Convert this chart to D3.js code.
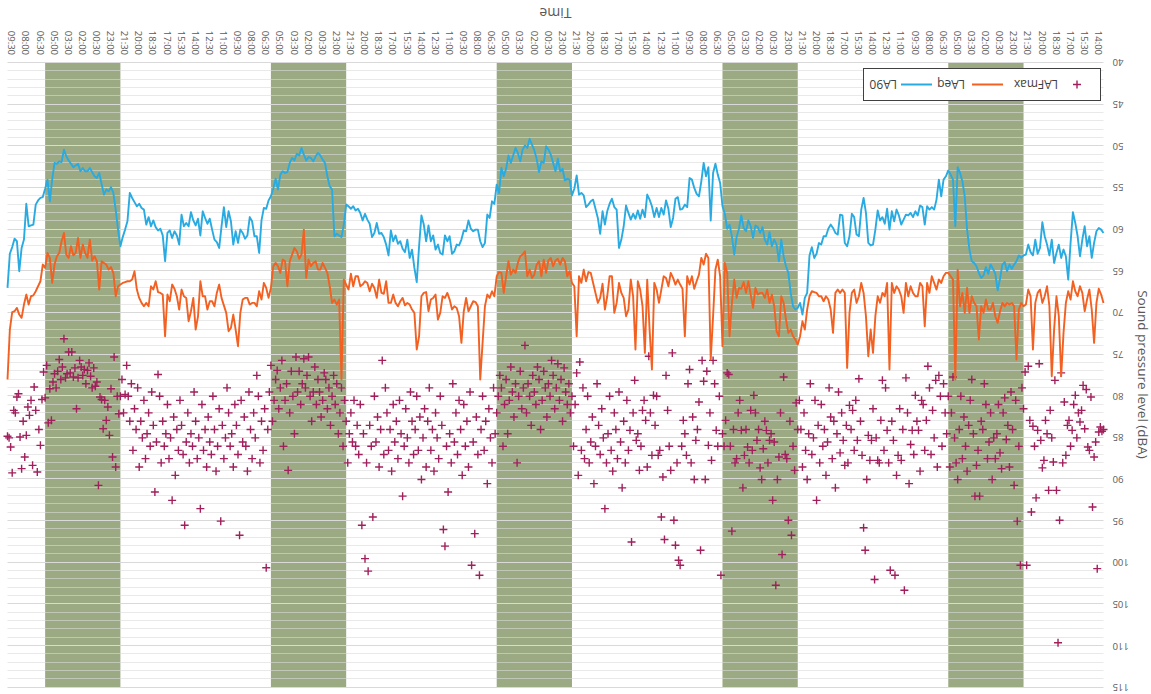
<!DOCTYPE html>
<html>
<head>
<meta charset="utf-8">
<script src="https://cdn.jsdelivr.net/npm/d3@7"></script>
<style>
  html, body { margin: 0; padding: 0; background: #ffffff; }
  svg { display: block; }
  text { font-family: "Open Sans", "Noto Sans", "DejaVu Sans", sans-serif; }
</style>
</head>
<body>
<svg id="chart" width="1151" height="694"></svg>
<script>
// ---- data -------------------------------------------------------------
// Hours are counted from 13:30 on the first day of the survey.
const totalHours = 116.5;          // 13:30 day 1 -> 10:00 day 6
const lineStepHours = 0.25;        // LA90 / LAeq: 15-minute values
const maxStepHours = 1 / 6;        // LAFmax: 10-minute values

// Night-time periods (22:00-06:00), start hour and length
const nightStarts = [8.5, 32.5, 56.5, 80.5, 104.5];
const nightLength = 8;

const seriesNames = ["LAFmax", "LAeq", "LA90"];
const seriesColors = ["#a01f5c", "#f26122", "#29abe2"];

const la90 = [
60.4,60.0,59.8,60.2,61.6,63.4,60.8,62.0,59.6,61.2,
63.2,60.8,59.2,57.9,61.6,66.0,63.2,62.4,63.4,61.8,
62.8,64.0,61.2,63.1,61.8,60.8,59.1,62.2,62.9,61.2,
63.1,62.7,61.8,63.0,63.1,63.4,63.1,63.8,64.2,64.7,
64.2,65.0,63.9,64.2,65.9,67.3,65.3,64.7,64.2,65.3,
64.5,65.5,65.8,65.2,64.4,64.0,63.8,62.4,60.0,56.0,
54.2,53.2,52.5,59.6,54.0,53.4,52.9,53.6,54.0,56.0,
54.0,56.4,57.6,57.3,57.6,57.2,59.4,57.3,57.1,58.3,
57.8,58.5,58.0,58.3,58.2,58.8,59.4,58.3,57.6,59.0,
57.8,60.0,57.5,59.3,58.5,58.9,57.7,60.0,61.8,61.9,
61.6,58.0,56.2,57.6,60.8,60.6,58.5,58.1,60.8,62.0,
61.6,58.3,58.2,60.6,60.4,59.8,59.4,59.9,60.8,
60.8,61.8,61.6,62.9,63.4,62.1,63.1,67.6,68.2,70.2,
68.8,69.4,69.6,69.2,67.6,65.2,64.4,63.2,61.2,63.8,
61.8,61.2,62.0,60.3,61.8,61.2,59.7,60.4,59.7,59.5,
61.0,59.6,58.9,60.2,59.8,58.3,59.9,60.9,63.0,60.8,
59.4,59.9,58.1,57.2,54.4,53.4,52.1,53.2,58.9,52.5,
53.6,52.0,54.2,56.0,55.7,55.0,54.0,53.8,57.3,57.0,
57.5,57.6,56.1,56.3,58.6,59.7,57.5,56.5,58.2,57.4,
58.5,57.4,58.5,57.2,56.4,55.8,58.5,57.6,58.7,57.7,
58.7,58.1,58.8,58.0,57.1,59.6,61.2,62.2,57.6,57.3,
56.3,56.9,57.8,59.4,57.8,60.5,58.6,57.5,56.4,56.6,
57.0,57.3,55.9,55.6,55.8,53.5,55.1,55.9,54.0,53.9,
54.1,52.7,53.0,51.5,53.0,52.0,51.0,
50.4,50.0,52.0,51.8,53.1,51.5,50.5,49.8,49.1,50.2,
49.9,50.4,51.8,50.8,50.2,51.1,52.0,51.1,52.7,53.6,
52.6,55.6,54.6,56.9,56.6,58.6,58.2,61.6,62.1,61.4,
60.0,60.0,60.2,59.9,58.9,60.2,60.1,61.2,61.9,61.8,
62.6,62.9,60.8,61.4,60.7,63.0,62.8,61.8,62.4,60.7,
61.4,59.5,61.4,59.4,58.3,62.0,66.3,64.6,62.4,63.4,
61.2,62.7,62.3,61.4,61.7,60.7,61.4,60.1,63.1,61.8,
60.9,60.4,60.5,59.2,60.4,60.9,59.3,58.8,58.1,58.9,
58.0,57.5,57.7,57.2,57.5,57.2,57.0,59.4,60.9,60.7,
60.5,60.8,55.2,54.8,53.6,52.0,51.6,51.1,50.8,51.2,
51.8,51.4,51.3,51.7,51.0,50.2,51.1,50.9,51.7,51.4,
52.0,53.1,53.2,53.0,53.4,55.2,53.9,
55.1,56.0,56.5,57.5,57.4,58.9,62.8,60.8,60.8,59.0,
58.5,60.7,61.1,60.4,60.0,61.6,60.2,61.8,59.0,57.8,
59.7,57.3,59.6,62.2,61.5,61.2,60.0,58.7,59.3,58.6,
57.8,60.7,58.7,59.5,58.9,57.9,59.6,59.2,59.6,58.2,
61.8,60.7,60.2,61.0,60.1,60.4,63.8,60.7,59.9,60.1,
59.7,58.9,59.6,58.5,59.4,57.6,57.4,56.9,57.2,56.7,
56.2,55.6,59.0,60.0,60.9,62.0,60.0,57.6,55.6,54.9,
55.4,55.2,55.8,54.5,53.2,53.8,53.6,53.1,52.6,53.0,
53.0,52.6,53.0,52.1,52.3,52.5,52.1,51.7,51.2,50.4,
51.9,51.8,52.1,52.0,54.0,56.6,54.0,55.1,56.1,56.2,
56.5,57.0,59.4,59.5,59.6,56.9,61.2,62.2,65.0,61.4,
61.1,62.1,62.9,67.0
];

const laeq = [
68.8,67.8,67.1,68.8,73.6,69.6,67.2,68.4,69.8,67.6,
66.8,68.0,67.4,66.2,68.4,67.4,68.8,72.4,77.6,70.4,
68.0,72.0,77.6,69.2,66.8,68.0,68.8,67.2,67.6,68.8,
74.4,68.0,67.2,69.0,69.2,68.8,69.6,75.6,69.2,68.8,
69.0,68.8,69.2,68.8,69.8,71.2,70.4,68.8,69.6,69.6,
68.4,70.0,69.2,73.2,69.2,68.8,68.0,70.0,67.0,70.0,
67.6,69.2,64.8,78.0,66.0,65.6,65.2,65.2,65.6,66.4,
66.0,67.2,66.4,65.6,67.6,66.4,71.6,66.8,66.4,68.0,
68.0,67.6,66.8,68.0,66.4,70.0,68.0,67.2,66.8,67.6,
66.4,76.8,66.4,68.0,67.6,68.8,68.0,70.4,74.8,72.0,
75.2,70.4,67.6,66.4,68.0,68.8,67.2,67.6,70.0,76.6,
67.6,67.2,67.6,67.2,67.6,72.4,69.6,68.4,68.0,
68.6,68.0,68.0,67.6,67.5,67.4,68.0,69.6,72.0,71.0,
72.8,73.8,73.2,72.8,72.0,72.4,70.8,68.8,68.0,72.8,
72.2,69.2,67.8,68.8,67.2,68.2,67.6,67.6,67.8,67.0,
69.4,67.8,66.2,67.6,66.3,67.1,67.0,68.2,66.0,68.8,
72.8,65.2,64.0,74.0,65.6,63.6,64.8,70.4,75.6,63.4,
62.9,64.2,63.4,65.4,66.2,67.1,65.6,66.6,65.6,72.8,
67.1,66.6,66.0,66.6,65.8,65.2,66.8,65.8,65.6,67.2,
68.8,67.2,66.4,76.8,72.0,66.0,74.8,69.2,67.2,66.2,
74.4,68.0,66.0,69.6,70.4,68.2,67.6,66.4,68.8,70.0,
65.6,65.6,68.0,69.6,66.5,68.2,68.8,67.6,66.4,65.2,
65.1,66.2,64.8,66.4,65.6,72.8,66.8,66.4,65.0,65.6,
63.8,63.4,64.2,63.5,63.7,64.4,63.4,
63.7,65.2,63.6,65.6,63.8,64.2,65.4,65.8,64.8,65.6,
62.6,63.0,63.2,64.0,65.2,64.8,65.4,63.8,65.6,67.6,
65.2,65.1,65.6,68.0,67.4,68.2,67.8,69.2,73.6,78.0,
69.2,68.7,68.6,69.2,69.8,68.2,69.8,73.6,70.4,69.4,
69.2,69.6,68.4,67.6,68.2,68.0,70.0,70.8,67.8,68.2,
68.4,69.8,67.5,67.6,68.0,72.8,74.4,70.0,69.6,69.0,
68.8,69.1,68.2,68.6,69.2,68.8,67.8,68.8,68.8,66.2,
67.7,67.6,66.0,68.2,67.0,66.5,67.4,66.4,66.2,66.6,
66.8,65.6,65.6,66.8,65.3,67.2,66.6,66.0,78.0,68.4,
69.0,68.4,68.8,66.8,65.2,64.6,64.0,64.8,64.8,63.8,
64.0,64.4,63.6,65.8,60.0,63.0,63.5,62.6,62.2,63.0,
63.8,66.8,63.8,63.6,65.2,64.4,64.0,
64.4,67.0,68.2,67.0,66.4,68.4,67.4,69.2,68.8,68.8,
69.0,68.2,68.2,68.4,70.0,74.0,72.0,70.2,71.8,72.2,
70.0,69.1,68.2,66.6,67.6,69.2,68.6,68.6,69.6,68.0,
68.0,66.2,70.4,72.0,68.2,69.8,71.0,68.2,68.0,67.2,
69.6,68.0,67.1,66.6,68.6,67.8,72.8,67.8,67.6,67.5,
66.2,67.2,66.8,69.2,68.8,69.2,68.8,68.2,67.2,65.0,
66.0,66.2,66.2,66.3,66.4,66.6,66.8,68.0,65.2,64.5,
64.8,64.2,64.0,63.8,67.2,63.8,63.2,63.7,61.2,63.4,
62.8,61.8,63.4,61.0,62.8,63.1,62.0,63.4,63.0,60.4,
61.4,62.8,63.2,64.2,66.4,63.4,62.8,64.6,64.2,66.2,
66.8,67.4,67.9,68.0,69.0,67.8,69.0,70.6,70.2,69.4,
69.8,69.9,72.0,78.0
];

const lafmax = [
84.0,84.2,83.7,84.3,100.7,85.5,87.3,93.3,80.1,86.5,86.1,79.2,83.9,78.7,81.7,83.1,
82.0,85.0,79.9,81.0,84.1,86.0,82.9,83.5,87.1,80.7,88.0,77.2,94.9,109.6,91.3,78.1,87.9,85.0,81.7,
91.3,84.5,82.9,87.7,88.6,85.3,76.1,84.1,92.2,86.0,83.6,93.9,82.9,76.4,100.3,77.1,
81.5,79.0,100.3,86.0,95.0,80.5,90.7,84.0,79.5,88.5,83.5,85.2,80.2,82.0,88.7,86.8,81.0,84.5,87.5,85.0,
90.0,82.0,85.5,87.5,81.0,78.5,84.0,83.0,92.0,86.5,88.3,92.0,84.5,78.0,80.5,83.5,89.0,86.0,82.5,87.5,
80.0,84.0,90.0,88.0,85.0,77.7,82.0,88.5,
80.0,84.5,82.0,78.5,86.0,80.0,77.5,88.5,78.1,85.0,81.7,87.0,79.0,76.4,82.9,86.5,81.0,80.5,89.0,84.1,
83.0,79.9,87.0,84.1,85.8,90.5,82.0,77.8,103.3,84.0,87.7,81.5,87.1,89.5,101.5,85.3,83.0,100.9,88.0,84.1,
79.0,86.5,78.1,82.9,88.0,87.7,85.0,102.0,81.5,85.3,87.7,84.7,90.0,98.5,95.8,87.1,83.0,77.9,85.3,80.5,
86.5,81.7,84.0,81.1,88.0,83.5,88.3,85.3,82.0,86.8,79.5,84.5,91.0,83.0,87.5,82.5,79.0,85.5,89.5,84.0,
86.0,81.0,88.0,83.5,92.5,80.5,85.0,87.0,78.5,84.5,90.0,86.5,82.0,88.5,84.0,80.5,
84.0,80.8,88.9,86.0,96.7,83.0,94.9,87.5,87.0,77.7,99.0,82.0,87.3,90.0,102.7,85.5,92.5,84.5,85.3,88.0,
84.1,83.0,86.3,90.0,88.6,84.0,85.3,82.0,79.9,86.5,81.7,88.0,86.1,84.0,87.1,91.0,84.1,80.5,82.0,87.5,
88.0,84.0,96.2,86.0,77.4,77.2,82.9,86.0,
84.5,101.5,80.0,86.0,84.1,78.5,75.7,87.7,82.0,85.9,77.0,90.0,78.2,75.7,98.5,80.7,84.0,85.3,90.0,82.5,
88.0,76.8,78.5,87.1,84.5,82.9,86.0,100.3,99.7,88.0,97.9,94.9,74.8,88.9,86.0,81.7,77.5,97.2,89.7,94.5,
86.5,87.1,80.0,83.5,79.9,87.1,82.0,75.2,88.5,82.9,80.5,81.7,86.0,88.9,84.5,85.3,78.1,82.0,97.5,84.1,
86.5,80.5,88.0,83.0,91.0,85.5,79.5,87.5,84.0,82.0,89.0,86.5,80.0,84.5,88.0,93.5,85.0,81.5,87.0,83.5,
78.5,86.0,90.5,82.5,85.5,88.0,80.0,84.0,87.5,79.0,86.5,75.9,89.5,77.2,81.0,86.0,
80.0,82.0,78.5,81.0,79.5,76.6,83.0,78.0,80.5,76.1,79.0,81.5,77.5,75.7,80.0,78.5,82.5,79.0,77.0,80.5,
84.0,78.0,76.5,81.0,79.5,77.5,83.5,80.0,78.5,82.0,73.9,79.0,81.5,77.0,80.0,88.0,78.5,82.5,79.5,76.5,
80.5,84.5,78.0,81.0,86.0,79.0,77.5,80.0,
82.0,84.5,79.0,88.0,85.0,81.5,90.5,83.0,86.5,80.0,84.0,101.5,87.0,82.5,96.5,85.5,100.3,79.5,88.5,83.0,
86.0,81.0,89.5,84.0,80.5,87.0,82.0,85.5,78.5,88.0,84.5,91.5,86.0,98.0,96.0,83.5,80.0,87.5,85.0,82.0,
89.0,84.0,86.5,79.0,83.0,88.5,81.5,85.0,90.0,82.5,86.5,80.0,84.0,87.0,83.0,79.5,88.0,85.0,81.5,86.0,
92.0,84.5,80.5,87.5,83.0,85.5,81.0,89.0,84.0,86.5,82.0,79.0,87.0,75.7,84.0,88.5,82.5,85.5,80.0,94.5,
86.0,83.5,101.0,88.0,99.5,84.5,95.5,81.0,87.0,83.5,86.0,80.5,85.5,82.0,84.5,88.0,
83.0,80.5,86.0,79.0,82.0,84.5,78.5,81.0,77.5,80.0,83.5,79.0,81.5,78.0,77.2,80.5,82.5,79.5,78.0,81.0,
76.5,79.5,83.0,80.0,75.3,77.5,79.0,75.5,78.5,81.0,77.0,79.5,75.3,84.5,80.0,77.0,82.0,88.9,78.5,80.5,
86.0,75.7,79.0,81.5,76.9,78.0,80.5,83.0,
76.3,79.5,84.0,100.6,81.5,86.5,83.0,88.0,80.0,77.5,85.0,82.0,87.5,84.0,79.5,89.0,86.0,82.5,85.5,80.5,
96.7,87.0,83.5,81.0,88.5,84.5,86.0,82.0,79.0,85.0,87.5,83.5,95.0,81.5,86.0,89.0,84.0,80.0,87.0,85.5,
82.5,88.5,84.0,86.5,81.0,93.5,85.0,87.5,83.0,79.5,86.0,84.5,88.0,82.0,85.5,95.5,87.0,83.5,80.5,86.5,
84.0,89.5,82.5,92.5,85.0,87.5,81.0,84.5,86.0,83.0,88.0,80.0,77.4,85.5,91.5,83.5,79.5,86.0,82.0,84.5,
87.5,80.5,85.0,83.0,88.5,79.0,84.0,81.5,86.5,78.5,83.0,80.0,76.3,79.8,82.0,78.0,
80.0,82.1,80.0,88.5,75.3,87.3,79.1,84.7,81.3,82.9,80.5,83.9,80.4,80.1,90.7,78.3,78.8,76.6,79.0,77.6,
76.0,76.9,78.5,76.8,77.5,76.5,75.7,77.8,81.5,76.6,77.7,74.7,77.2,74.7,77.3,77.8,73.1,76.5,78.0,75.6,
77.0,79.0,77.3,78.3,82.9,79.1,83.2,76.3,
80.2,77.1,80.4,85.9,84.0,89.1,81.7,78.9,88.3,80.5,82.3,81.3,84.7,87.3,83.0,88.7,84.9,79.7,80.1,82.0,
81.7,89.2,86.1,85.0,84.8
];

// Time-axis labels every 1.5 h, first one at 14:00
const timeLabels = [
"14:00","15:30","17:00","18:30","20:00","21:30","23:00","00:30","02:00","03:30","05:00","06:30","08:00","09:30","11:00","12:30",
"14:00","15:30","17:00","18:30","20:00","21:30","23:00","00:30","02:00","03:30","05:00","06:30","08:00","09:30","11:00","12:30",
"14:00","15:30","17:00","18:30","20:00","21:30","23:00","00:30","02:00","03:30","05:00","06:30","08:00","09:30","11:00","12:30",
"14:00","15:30","17:00","18:30","20:00","21:30","23:00","00:30","02:00","03:30","05:00","06:30","08:00","09:30","11:00","12:30",
"14:00","15:30","17:00","18:30","20:00","21:30","23:00","00:30","02:00","03:30","05:00","06:30","08:00","09:30"
];
const firstLabelHour = 0.5;
const labelStepHours = 1.5;

const yTicks = [40,45,50,55,60,65,70,75,80,85,90,95,100,105,110,115];

// ---- layout ------------------------------------------------------------
const W = 1151, H = 694;
const svg = d3.select("#chart");
// The whole figure is laid out normally and then turned half a revolution.
const root = svg.append("g").attr("transform", `rotate(180 ${W / 2} ${H / 2})`);

const x = d3.scaleLinear().domain([0, totalHours]).range([47.5, 1143.5]);
const y = d3.scaleLinear().domain([40, 115]).range([631, 6.25]);

// night bands
root.append("g").selectAll("rect")
  .data(nightStarts)
  .join("rect")
  .attr("x", d => x(d))
  .attr("width", d => x(d + nightLength) - x(d))
  .attr("y", y(115))
  .attr("height", y(40) - y(115))
  .attr("fill", "#9baa83");

// gridlines: every 1 dB (minor) and every 5 dB (major)
const minorVals = d3.range(41, 115).filter(v => v % 5 !== 0);
root.append("g").selectAll("line")
  .data(minorVals)
  .join("line")
  .attr("x1", x(0)).attr("x2", x(totalHours))
  .attr("y1", d => Math.round(y(d)) + 0.5).attr("y2", d => Math.round(y(d)) + 0.5)
  .attr("stroke", "#dadada").attr("stroke-opacity", 0.6).attr("stroke-width", 1);

root.append("g").selectAll("line")
  .data(yTicks)
  .join("line")
  .attr("x1", x(0)).attr("x2", x(totalHours))
  .attr("y1", d => Math.round(y(d)) + 0.5).attr("y2", d => Math.round(y(d)) + 0.5)
  .attr("stroke", "#d9d9d9").attr("stroke-width", 1);

// y axis labels
const yAxis = d3.axisLeft(y).tickValues(yTicks).tickSize(0).tickPadding(0);
const gy = root.append("g").attr("transform", "translate(38.5,0)").call(yAxis);
gy.select(".domain").remove();
gy.selectAll("text")
  .attr("fill", "#595959")
  .style("font-size", "9.5px")
  .style("font-family", "'Open Sans','Noto Sans',sans-serif");

// x axis labels (rotated)
const labelHours = timeLabels.map((_, k) => firstLabelHour + k * labelStepHours);
const xAxis = d3.axisBottom(x).tickValues(labelHours)
  .tickFormat((d, k) => timeLabels[k]).tickSize(0).tickPadding(0);
const gx = root.append("g").attr("transform", "translate(0,631)").call(xAxis);
gx.select(".domain").remove();
gx.selectAll("text")
  .attr("fill", "#595959")
  .style("font-size", "9.5px")
  .style("font-family", "'Open Sans','Noto Sans',sans-serif")
  .attr("text-anchor", "end")
  .attr("transform", "translate(0,8) rotate(-90)")
  .attr("x", 0).attr("y", 0).attr("dy", "0.35em");

// axis titles
root.append("text")
  .attr("x", x(totalHours / 2)).attr("y", 686)
  .attr("text-anchor", "middle")
  .attr("fill", "#595959")
  .style("font-size", "14px")
  .text("Time");

root.append("text")
  .attr("transform", "translate(13,319.5) rotate(-90)")
  .attr("text-anchor", "middle")
  .attr("fill", "#595959")
  .style("font-size", "13.5px")
  .text("Sound pressure level (dBA)");

// LAFmax markers
const plusPath = "M-4,0H4M0,-4V4";
root.append("g").selectAll("path")
  .data(lafmax)
  .join("path")
  .attr("d", plusPath)
  .attr("transform", (d, j) => `translate(${x(j * maxStepHours)},${y(d)})`)
  .attr("fill", "none")
  .attr("stroke", seriesColors[0])
  .attr("stroke-width", 1.4);

// LAeq and LA90 lines
const line = d3.line()
  .x((d, i) => x(i * lineStepHours))
  .y(d => y(d));

root.append("path")
  .datum(laeq)
  .attr("d", line)
  .attr("fill", "none")
  .attr("stroke", seriesColors[1])
  .attr("stroke-width", 1.9)
  .attr("stroke-linejoin", "round");

root.append("path")
  .datum(la90)
  .attr("d", line)
  .attr("fill", "none")
  .attr("stroke", seriesColors[2])
  .attr("stroke-width", 1.9)
  .attr("stroke-linejoin", "round");

// legend
const lg = root.append("g").attr("transform", "translate(50.5,593.5)");
lg.append("rect")
  .attr("width", 237).attr("height", 32)
  .attr("fill", "#ffffff").attr("stroke", "#404040").attr("stroke-width", 1);

const legendItems = [
  { name: seriesNames[0], color: seriesColors[0], kind: "marker", sx: 23.5, tx: 42.5 },
  { name: seriesNames[1], color: seriesColors[1], kind: "line", sx: 97.5, tx: 135.5 },
  { name: seriesNames[2], color: seriesColors[2], kind: "line", sx: 168.5, tx: 203.5 }
];
legendItems.forEach(it => {
  if (it.kind === "marker") {
    lg.append("path").attr("d", plusPath)
      .attr("transform", `translate(${it.sx},16)`)
      .attr("fill", "none").attr("stroke", it.color).attr("stroke-width", 1.4);
  } else {
    lg.append("line")
      .attr("x1", it.sx).attr("x2", it.sx + 31)
      .attr("y1", 16).attr("y2", 16)
      .attr("stroke", it.color).attr("stroke-width", 2);
  }
  lg.append("text")
    .attr("x", it.tx).attr("y", 16).attr("dy", "0.35em")
    .attr("fill", "#404040")
    .style("font-size", "12px")
    .text(it.name);
});
</script>
</body>
</html>
